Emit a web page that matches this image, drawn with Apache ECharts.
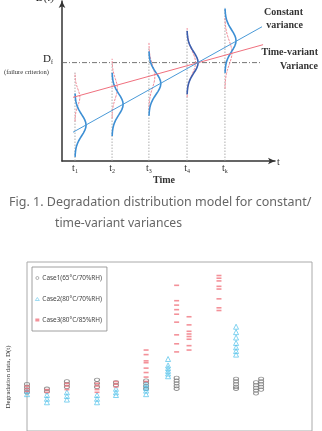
<!DOCTYPE html>
<html>
<head>
<meta charset="utf-8">
<script src="https://cdn.jsdelivr.net/npm/echarts@6/dist/echarts.min.js"></script>
<style>
  html, body { margin: 0; padding: 0; background: #fff; }
  #chart { width: 322px; height: 431px; }
</style>
</head>
<body>
<div id="chart"></div>
<script>
// ---- Fig. 1 (model sketch) ----
const tPos = [0.61, 2.35, 4.08, 5.87, 7.65];
const tNames = ['1', '2', '3', '4', 'k'];
const dfLevel = 6.15;
const guideTop = [5.53, 6.15, 7.08, 8.2, 9.57];
const constLine = [[0.52, 1.80], [9.39, 8.39]];
const variantLine = [[0.52, 3.98], [9.44, 7.27]];
const constMean = [2.24, 3.54, 4.84, 6.15, 7.52];
const constSd = [0.66, 0.66, 0.67, 0.66, 0.67];
const constPeak = [0.52, 0.52, 0.56, 0.52, 0.52];
const variantMean = [3.98, 4.53, 5.28, 6.15, 6.77];
const variantSd = [0.5, 0.62, 0.7, 0.72, 0.75];
const variantPeak = [0.23, 0.25, 0.28, 0.4, 0.33];

// ---- degradation data (lower chart) ----
const caseNames = ['Case1(65\u00b0C/70%RH)', 'Case2(80\u00b0C/70%RH)', 'Case3(80\u00b0C/85%RH)'];
const case1X = [0, 0.98, 1.96, 3.44, 4.37, 5.85, 7.35, 10.27, 11.25, 11.5];
const case1Y = [
  [2.77, 2.61, 2.45, 2.29], [2.5, 2.34], [2.93, 2.77, 2.61], [3.03, 2.82, 2.61], [2.87, 2.71],
  [2.98, 2.82, 2.66, 2.5], [3.14, 2.98, 2.82, 2.66, 2.5], [3.09, 2.93, 2.77, 2.61, 2.5],
  [2.87, 2.71, 2.55, 2.39, 2.23], [3.09, 2.93, 2.77, 2.61, 2.45]
];
const case2X = [0, 0.98, 1.96, 3.44, 4.37, 5.85, 6.93, 10.27];
const case2Y = [
  [2.39, 2.18], [2.13, 1.91, 1.70], [2.29, 2.07, 1.86], [2.13, 1.91, 1.70], [2.5, 2.29, 2.13],
  [2.77, 2.55, 2.39, 2.18], [4.26, 3.88, 3.72, 3.56, 3.40, 3.24],
  [6.17, 5.85, 5.53, 5.21, 4.95, 4.73, 4.52]
];
const case3X = [0, 0.98, 1.96, 3.44, 4.37, 5.85, 7.35, 7.96, 9.43];
const case3Y = [
  [2.66, 2.5, 2.34], [2.45, 2.29], [2.82, 2.66, 2.45], [2.82, 2.66, 2.45, 2.29], [2.93, 2.77, 2.61],
  [4.79, 4.52, 4.15, 4.04, 3.72, 3.46, 3.19, 2.93],
  [8.62, 7.71, 7.45, 7.18, 6.91, 6.44, 5.69, 5.16, 4.68],
  [6.76, 6.28, 5.90, 5.74, 5.59, 5.43, 5.05, 4.79],
  [9.20, 9.04, 8.88, 8.56, 8.40, 7.82, 7.29, 7.13]
];

function pairs(xs, ys) {
  const out = [];
  xs.forEach((x, i) => ys[i].forEach(y => out.push([x, y])));
  return out;
}

// normal density drawn sideways at time t
function bell(t, mu, sd, peak) {
  const pts = [];
  for (let z = -3; z <= 3.001; z += 0.125) {
    pts.push([t + peak * Math.exp(-0.5 * z * z), mu + z * sd]);
  }
  return pts;
}

const serif = '"Liberation Serif", "DejaVu Serif", serif';
const series = [];

tPos.forEach((t, i) => {
  series.push({
    type: 'line', xAxisIndex: 0, yAxisIndex: 0, showSymbol: false, silent: true,
    data: [[t, 0], [t, guideTop[i]]],
    lineStyle: { color: '#999', width: 0.8, type: [1.5, 1.5] }
  });
});

series.push({
  type: 'line', xAxisIndex: 0, yAxisIndex: 0, showSymbol: false, silent: true,
  data: [[0, dfLevel], [9.3, dfLevel]],
  lineStyle: { color: '#666', width: 0.9, type: [5, 2, 1, 2] }
});

tPos.forEach((t, i) => {
  series.push({
    type: 'line', xAxisIndex: 0, yAxisIndex: 0, showSymbol: false, silent: true,
    data: bell(t, variantMean[i], variantSd[i], variantPeak[i]),
    lineStyle: { color: '#f28b98', width: 1, type: [2.5, 1] }
  });
  series.push({
    type: 'line', xAxisIndex: 0, yAxisIndex: 0, showSymbol: false, silent: true,
    data: bell(t, constMean[i], constSd[i], constPeak[i]),
    lineStyle: { color: i === 3 ? '#3c5fae' : '#3d8fd4', width: 1.6 }
  });
});

series.push({
  type: 'line', xAxisIndex: 0, yAxisIndex: 0, showSymbol: false, silent: true,
  data: variantLine, lineStyle: { color: '#f0707e', width: 1 }
});
series.push({
  type: 'line', xAxisIndex: 0, yAxisIndex: 0, showSymbol: false, silent: true,
  data: constLine, lineStyle: { color: '#4a9ad8', width: 1 }
});

const caseColors = ['#777', '#52c1ea', '#f07680'];

series.push({
  name: caseNames[0], type: 'scatter', xAxisIndex: 1, yAxisIndex: 1,
  data: pairs(case1X, case1Y), symbol: 'circle', symbolSize: [5, 3.5],
  itemStyle: { color: 'rgba(255,255,255,0)', borderColor: caseColors[0], borderWidth: 0.9 }
});
series.push({
  name: caseNames[1], type: 'scatter', xAxisIndex: 1, yAxisIndex: 1,
  data: pairs(case2X, case2Y), symbol: 'triangle', symbolSize: 5,
  itemStyle: { color: 'rgba(255,255,255,0)', borderColor: caseColors[1], borderWidth: 0.9 }
});
series.push({
  name: caseNames[2], type: 'scatter', xAxisIndex: 1, yAxisIndex: 1,
  data: pairs(case3X, case3Y), symbol: 'rect', symbolSize: [5, 1.6],
  itemStyle: { color: caseColors[2] }
});

const chart = echarts.init(document.getElementById('chart'), null, { renderer: 'canvas' });
chart.setOption({
  backgroundColor: '#fff',
  animation: false,
  grid: [
    { left: 62, top: 1, width: 213, height: 160 },
    { left: 27, right: 10, top: 262, bottom: -19, show: true, borderColor: '#aaa', borderWidth: 1 }
  ],
  xAxis: [
    {
      gridIndex: 0, type: 'value', min: 0, max: 10,
      axisLine: { show: true, symbol: ['none', 'arrow'], symbolSize: [5, 7], lineStyle: { color: '#333', width: 1.5 } },
      axisTick: { show: false }, splitLine: { show: false },
      axisLabel: {
        customValues: tPos, margin: 2,
        formatter: v => '{a|t}{b|' + tNames[tPos.indexOf(v)] + '}',
        rich: {
          a: { fontFamily: serif, fontSize: 10, color: '#333', lineHeight: 11 },
          b: { fontFamily: serif, fontSize: 6, color: '#333', verticalAlign: 'bottom', lineHeight: 6 }
        }
      }
    },
    { gridIndex: 1, type: 'value', min: 0, max: 14, show: false }
  ],
  yAxis: [
    {
      gridIndex: 0, type: 'value', min: 0, max: 10,
      axisLine: { show: true, symbol: ['none', 'arrow'], symbolSize: [5, 7], lineStyle: { color: '#333', width: 1.5 } },
      axisTick: { show: false }, splitLine: { show: false }, axisLabel: { show: false }
    },
    { gridIndex: 1, type: 'value', min: 0, max: 10, show: false }
  ],
  legend: {
    data: [
      { name: caseNames[0], icon: 'circle', itemStyle: { color: 'rgba(255,255,255,0)', borderColor: caseColors[0], borderWidth: 0.7 } },
      { name: caseNames[1], icon: 'triangle', itemStyle: { color: 'rgba(255,255,255,0)', borderColor: caseColors[1], borderWidth: 0.7 } },
      { name: caseNames[2], icon: 'rect', itemStyle: { color: caseColors[2] } }
    ],
    orient: 'vertical', left: 32, top: 267,
    padding: [8, 5, 8, 3], itemGap: 15, itemWidth: 4, itemHeight: 3,
    borderColor: '#888', borderWidth: 0.8,
    textStyle: { fontSize: 6.4, color: '#444', fontFamily: 'Noto Sans', padding: [0, 0, 0, -2] }
  },
  graphic: [
    { type: 'text', left: 36, top: -7, style: { text: 'D(t)', font: 'italic 11px ' + serif, fill: '#222' } },
    { type: 'text', left: 43, top: 54, style: {
        text: '{a|D}{b|f}',
        rich: { a: { font: '11px ' + serif, fill: '#222' }, b: { font: '6px ' + serif, fill: '#222', verticalAlign: 'bottom' } }
      } },
    { type: 'text', left: 4, top: 69, style: { text: '(failure criterion)', font: '6.5px ' + serif, fill: '#333' } },
    { type: 'text', left: 277, top: 157, style: { text: 't', font: '10px ' + serif, fill: '#333' } },
    { type: 'text', left: 153, top: 175, style: { text: 'Time', font: 'bold 10px ' + serif, fill: '#333' } },
    { type: 'text', right: 19, top: 7, style: { text: 'Constant', font: 'bold 10px ' + serif, fill: '#333', align: 'right' } },
    { type: 'text', right: 19, top: 20, style: { text: 'variance', font: 'bold 10px ' + serif, fill: '#333', align: 'right' } },
    { type: 'text', right: 4, top: 47, style: { text: 'Time-variant', font: 'bold 10px ' + serif, fill: '#333', align: 'right' } },
    { type: 'text', right: 4, top: 61, style: { text: 'Variance', font: 'bold 10px ' + serif, fill: '#333', align: 'right' } },
    { type: 'text', left: 9, top: 196, style: { text: 'Fig. 1. Degradation distribution model for constant/', font: '12.5px "Noto Sans", sans-serif', fill: '#666' } },
    { type: 'text', left: 55, top: 218, style: { text: 'time-variant variances', font: '12.2px "Noto Sans", sans-serif', fill: '#666' } },
    { type: 'text', x: 8, y: 377, rotation: Math.PI / 2, style: { text: 'Degradation data, D(t)', font: '7px ' + serif, fill: '#333', align: 'center', verticalAlign: 'middle' } }
  ],
  series: series
});
</script>
</body>
</html>
